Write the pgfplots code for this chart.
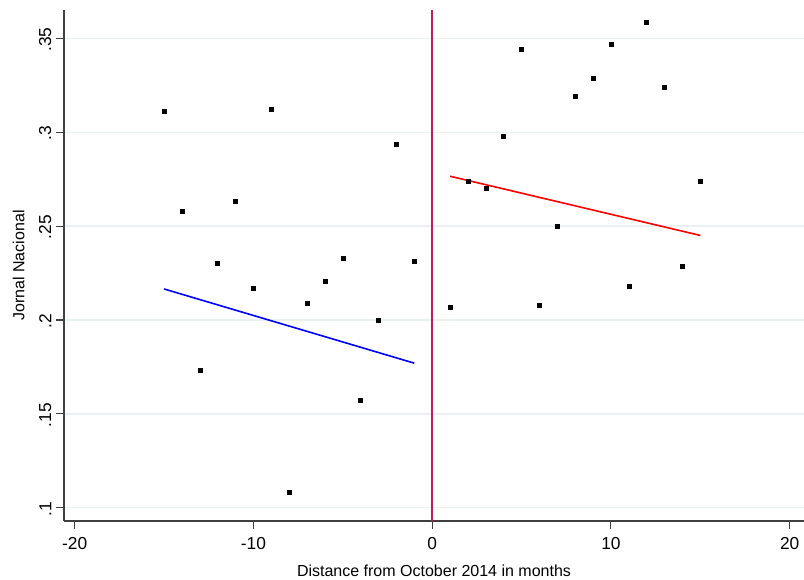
\documentclass[border=0pt]{standalone}
\usepackage{pgfplots}
\pgfplotsset{compat=1.18}
\usepackage{fontspec}
\setmainfont{Liberation Sans}
\usetikzlibrary{calc}
\definecolor{gridc}{RGB}{234,241,243}
\definecolor{vline}{RGB}{195,30,75}
\begin{document}
\begin{tikzpicture}[x=1pt,y=1pt]
\begin{axis}[
  scale only axis,
  width=555pt, height=383.25pt,
  xmin=-20.6, xmax=20.8,
  ymin=0.093, ymax=0.365,
  axis x line*=bottom, axis y line*=left,
  axis line style={draw=black!75, line width=0.8pt, -},
  xtick={-20,-10,0,10,20},
  xticklabels={-20,-10,0,10,20},
  ytick={0.1,0.15,0.2,0.25,0.3,0.35},
  yticklabels={.1,.15,.2,.25,.3,.35},
  tick align=outside,
  major tick length=6pt,
  tick style={black!75, line width=0.8pt},
  ymajorgrids,
  grid style={gridc, line width=0.9pt},
  yticklabel style={rotate=90, anchor=south, xshift=-1pt, font=\fontsize{13}{15}\selectfont},
  xticklabel style={yshift=-3pt, font=\fontsize{13}{15}\selectfont},
  /pgf/number format/assume math mode=true,
  xlabel={Distance from October 2014 in months},
  ylabel={Jornal Nacional},
  xlabel style={font=\fontsize{12}{14}\selectfont, yshift=-4pt},
  ylabel style={font=\fontsize{12}{14}\selectfont, yshift=4pt},
  clip=false,
]
\addplot[only marks, mark=square*, mark size=1.5pt, black] coordinates {
(-15,0.311) (-14,0.258) (-13,0.173) (-12,0.230) (-11,0.263) (-10,0.217)
(-9,0.312) (-8,0.1085) (-7,0.209) (-6,0.2205) (-5,0.233) (-4,0.157)
(-3,0.1997) (-2,0.2935) (-1,0.231)
(1,0.2066) (2,0.274) (3,0.270) (4,0.2978) (5,0.344) (6,0.208) (7,0.250)
(8,0.319) (9,0.3287) (10,0.347) (11,0.218) (12,0.3585) (13,0.324)
(14,0.2285) (15,0.274)
};
\addplot[blue, line width=1.2pt] coordinates {(-15,0.2165) (-1,0.1770)};
\addplot[red, line width=1.2pt] coordinates {(1,0.2765) (15,0.2450)};
\addplot[vline, line width=1.3pt] coordinates {(0,0.093) (0,0.365)};
\end{axis}
\pgfresetboundingbox
\useasboundingbox ($(current axis.south west)+(-48pt,-44.25pt)$) rectangle ($(current axis.north east)+(0,7.5pt)$);
\end{tikzpicture}
\end{document}
